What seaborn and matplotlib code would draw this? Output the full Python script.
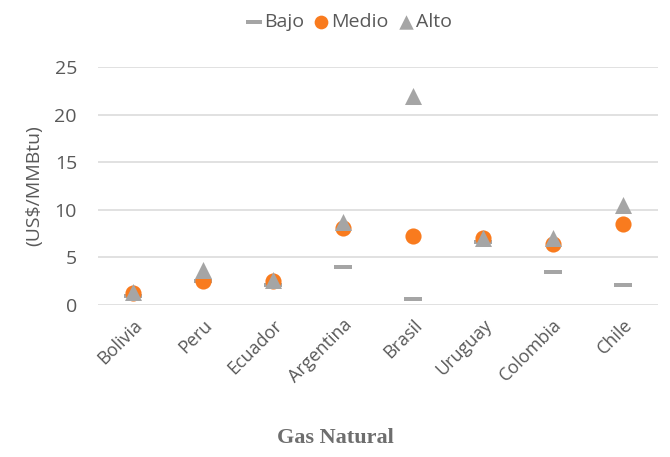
import matplotlib
matplotlib.use("Agg")
import matplotlib.pyplot as plt
from matplotlib.path import Path
import numpy as np
import pandas as pd
import seaborn as sns

# Gas price scenarios by country (US$/MMBtu)
paises = ["Bolivia", "Peru", "Ecuador", "Argentina", "Brasil", "Uruguay", "Colombia", "Chile"]
bajo = [0.9, 2.5, 2.1, 4.0, 0.6, 6.6, 3.5, 2.1]
medio = [1.2, 2.5, 2.5, 8.1, 7.2, 7.0, 6.4, 8.5]
alto = [1.3, 3.7, 2.6, 8.7, 22.0, 7.0, 7.0, 10.5]
y_ticks = [0, 5, 10, 15, 20, 25]

sns.set_theme(style="white")
plt.rcParams["font.family"] = ["Open Sans", "DejaVu Sans"]

df = pd.DataFrame({"pais": paises, "Bajo": bajo, "Medio": medio, "Alto": alto})
df["x"] = np.arange(len(paises))

gris = "#A5A5A5"
naranja = "#F97B1E"
texto = "#595959"

# flat horizontal bar marker for the low scenario
barra = Path([(-1, -0.26), (1, -0.26), (1, 0.26), (-1, 0.26), (-1, -0.26)],
             [Path.MOVETO, Path.LINETO, Path.LINETO, Path.LINETO, Path.CLOSEPOLY])

fig = plt.figure(figsize=(6.7, 4.57), dpi=100)
ax = fig.add_axes([0.146, 0.333, 0.836, 0.520])

sns.scatterplot(data=df, x="x", y="Bajo", marker=barra, s=165, color=gris,
                linewidth=0, ax=ax, label="Bajo", zorder=3)
sns.scatterplot(data=df, x="x", y="Medio", marker="o", s=135, color=naranja,
                linewidth=0, ax=ax, label="Medio", zorder=4)
sns.scatterplot(data=df, x="x", y="Alto", marker="^", s=150, color=gris,
                linewidth=0, ax=ax, label="Alto", zorder=5)

ax.set_xlim(-0.5, len(paises) - 0.5)
ax.set_ylim(0, 25)
ax.set_yticks(y_ticks)
ax.set_yticklabels([str(t) for t in y_ticks], fontsize=14, color=texto)
ax.set_xticks(df["x"])
ax.set_xticklabels(paises, rotation=45, ha="right", rotation_mode="anchor",
                   fontsize=13, color=texto)
ax.tick_params(axis="x", length=0, pad=8)
ax.tick_params(axis="y", length=0, pad=15)
ax.set_xlabel("")
ax.set_ylabel("(US$/MMBtu)", fontsize=14, color=texto, labelpad=8)
ax.yaxis.grid(True, color="#DCDCDC", linewidth=1.2)
ax.set_axisbelow(True)
for s in ax.spines.values():
    s.set_visible(False)

leg = ax.legend(loc="center", bbox_to_anchor=(0.45, 1.19), ncol=3, frameon=False,
                fontsize=14, handlelength=0.6, handletextpad=0.2, columnspacing=0.6,
                markerscale=0.85)
for t in leg.get_texts():
    t.set_color(texto)

fig.text(0.5, 0.02, "Gas Natural", ha="center", va="bottom", fontsize=16,
         fontweight="bold", color="#6E6E6E", family=["Liberation Serif", "DejaVu Serif"])

fig.savefig("out.png", dpi=100, facecolor="white")
